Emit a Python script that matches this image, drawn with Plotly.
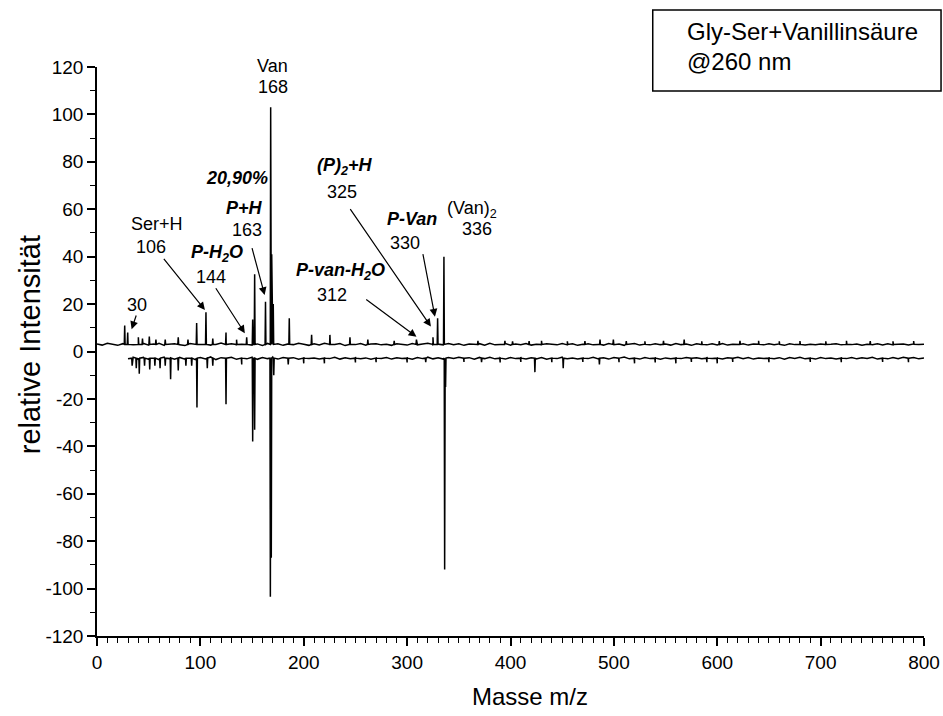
import plotly.graph_objects as go

# ---------------- data ----------------
upper_base = 3.0
lower_base = -2.8
noise_step = 5

# upper spectrum baseline deviations, every 5 m/z from 0 to 800
upper_noise = [
    0.2, -0.3, 0.5, 0.1, -0.4, 0.3, 0.6, -0.2, 0.0, 0.4,
    -0.3, 0.2, 0.5, -0.4, 0.1, 0.3, -0.2, -0.5, 0.4, 0.2,
    -0.1, 0.5, -0.3, 0.0, 0.6, -0.2, 0.3, -0.4, 0.1, 0.5,
    -0.3, 0.2, -0.5, 0.4, 0.0, 0.3, -0.4, 0.2, -0.1, 0.5,
    0.1, -0.4, 0.3, -0.2, 0.5, -0.3, 0.0, 0.4, -0.5, 0.2,
    -0.1, 0.4, -0.3, 0.2, 0.3, -0.2, 0.1, -0.4, 0.3, 0.0,
    -0.3, 0.4, -0.2, 0.2, 0.5, -0.4, 0.1, -0.2, 0.4, -0.1,
    0.3, -0.4, 0.2, -0.1, 0.3, -0.3, 0.5, -0.2, 0.0, 0.4,
    -0.3, 0.2, -0.1, 0.4, -0.3, 0.1, -0.4, 0.3, 0.0, -0.2,
    0.4, -0.2, 0.3, -0.4, 0.1, 0.3, -0.2, 0.0, -0.3, 0.4,
    -0.1, 0.2, -0.4, 0.2, 0.4, -0.3, 0.1, -0.2, 0.3, -0.1,
    0.2, -0.3, 0.4, -0.1, 0.2, -0.4, 0.3, 0.0, -0.2, 0.3,
    -0.2, 0.4, -0.3, 0.1, -0.1, 0.3, -0.3, 0.2, 0.1, -0.2,
    0.3, -0.1, 0.2, -0.4, 0.3, -0.1, 0.4, -0.3, 0.1, -0.2,
    0.2, -0.3, 0.1, 0.3, -0.2, 0.4, -0.1, 0.2, -0.4, 0.1,
    -0.1, 0.3, -0.2, 0.3, -0.2, 0.1, 0.2, -0.3, 0.2, -0.1,
    0.1,
]

# lower spectrum baseline deviations, every 5 m/z from 30 to 800
lower_start = 30
lower_noise = [
    -0.3, 0.4, -0.6, 0.3, -0.5, 0.2, -0.7, 0.4, -0.2, -0.5,
    0.3, -0.4, 0.2, -0.6, 0.3, -0.3, 0.5, -0.6, 0.2, -0.4,
    0.4, -0.5, 0.1, -0.3, 0.4, -0.5, 0.3, -0.2, 0.5, -0.4,
    0.3, -0.3, 0.2, -0.5, 0.4, -0.2, 0.1, -0.4, 0.3, -0.2,
    0.4, -0.4, 0.2, -0.3, 0.5, -0.3, 0.1, -0.5, 0.3, -0.1,
    0.3, -0.4, 0.2, -0.2, 0.4, -0.5, 0.3, -0.2, 0.4, -0.3,
    0.2, -0.4, 0.3, -0.1, 0.4, -0.3, 0.2, -0.5, 0.3, -0.2,
    0.4, -0.3, 0.1, -0.4, 0.3, -0.2, 0.5, -0.4, 0.2, -0.3,
    0.3, -0.5, 0.2, -0.2, 0.4, -0.3, 0.1, -0.4, 0.3, -0.2,
    0.4, -0.3, 0.2, -0.4, 0.3, -0.1, 0.5, -0.3, 0.2, -0.4,
    0.3, -0.2, 0.4, -0.5, 0.1, -0.3, 0.4, -0.2, 0.3, -0.4,
    0.2, -0.3, 0.5, -0.1, 0.3, -0.4, 0.2, -0.3, 0.4, -0.2,
    0.3, -0.4, 0.1, -0.2, 0.4, -0.3, 0.2, -0.5, 0.3, -0.1,
    0.4, -0.3, 0.2, -0.4, 0.3, -0.2, 0.1, -0.4, 0.4, -0.2,
    0.3, -0.3, 0.2, -0.1, 0.4, -0.4, 0.2, -0.3, 0.3, -0.2,
    0.4, -0.2, 0.3, -0.3, 0.1,
]

# upper spectrum peaks (m/z, relative intensity)
upper_peak_mz = [26.8, 29.7, 40, 44, 50.6, 57, 66, 78.6, 88, 96.4, 105.4, 112,
                 124.8, 135, 144.8, 150.6, 152.5, 163, 168, 169, 170.5, 186,
                 207.6, 225.3, 244.7, 262, 287.5, 309, 325, 329.5, 335.6,
                 368.5, 394.6, 402, 418, 430, 455, 472, 486.6, 499.5, 512, 530,
                 548, 568, 585, 602, 622, 640, 660, 680, 705, 725, 748, 770, 790]
upper_peak_int = [11, 8, 6, 5.5, 6.3, 5, 5, 6, 5, 12, 16.5, 5.5,
                  8, 5, 6, 13.5, 32.6, 21, 103, 41, 20, 14,
                  7, 7, 6, 5, 4.5, 5, 6, 14, 40,
                  4.5, 4.5, 4.3, 4.4, 4.5, 4.3, 4.4, 5, 5, 4.4, 4.3,
                  4.5, 5, 4.3, 4.4, 4.5, 4.5, 4.3, 4.4, 4.3, 4.5, 4.4, 4.3, 4.4]

# lower spectrum peaks (m/z, relative intensity)
lower_peak_mz = [34, 38, 40.9, 46, 51, 56, 61, 66, 71.2, 78.6, 86, 91.6,
                 96.7, 106.7, 112, 124.8, 140, 150.6, 152.5, 167.7, 168.6,
                 171, 185, 200, 220, 250, 270, 300, 318, 336.3, 337.2, 355,
                 372, 390, 410, 423.6, 440, 451, 470, 486, 505, 520, 540,
                 560, 575, 590, 600, 615, 650, 690, 720, 760, 785]
lower_peak_int = [-6, -7, -9.4, -6, -7.6, -6, -7, -6, -11.7, -8, -6, -6,
                  -23.6, -7, -6, -22.2, -5.5, -38, -33, -103.4, -87,
                  -10, -5.5, -5, -5, -4.6, -4.5, -4.6, -4.5, -92, -15, -4.4,
                  -4.5, -4.6, -4.4, -8.7, -4.5, -7, -4.4, -5.5, -4.5, -5, -4.6,
                  -5, -4.4, -4.5, -5, -4.4, -4.5, -4.4, -4.5, -4.4, -4.5]

x_tick_vals = [0, 100, 200, 300, 400, 500, 600, 700, 800]
y_tick_vals = [-120, -100, -80, -60, -40, -20, 0, 20, 40, 60, 80, 100, 120]
y_tick_text = ["-120", "-100", "-80", "-60", "-40", "-20", "0",
               "20", "40", "60", "80", "100", "120"]


def build(start, base, noise, mzs, ints, half=0.4):
    pts = [(start + i * noise_step, base + n) for i, n in enumerate(noise)]
    for m, h in zip(mzs, ints):
        pts += [(m - half, base), (m, h), (m + half, base)]
    pts.sort()
    return [p[0] for p in pts], [p[1] for p in pts]


ux, uy = build(0, upper_base, upper_noise, upper_peak_mz, upper_peak_int)
lx, ly = build(lower_start, lower_base, lower_noise, lower_peak_mz, lower_peak_int)

FONT = "Liberation Sans, Arial, sans-serif"

fig = go.Figure()
fig.add_trace(go.Scatter(x=ux, y=uy, mode="lines",
                         line=dict(color="black", width=1.5), showlegend=False))
fig.add_trace(go.Scatter(x=lx, y=ly, mode="lines",
                         line=dict(color="black", width=1.5), showlegend=False))

# ---------------- labels ----------------
labels = [
    ("Van", 170, 118.0, 6),
    ("168", 170, 111.5, 0),
    ("<b><i>20,90%</i></b>", 135, 73, 0),
    ("<b><i>P+H</i></b>", 143, 60.7, 0),
    ("163", 144.7, 51.3, 0),
    ("Ser+H", 57.7, 53.7, 0),
    ("106", 52.2, 44.2, 0),
    ("<b><i>P-H<sub>2</sub>O</i></b>", 115.7, 41.4, 0),
    ("144", 110, 31.3, 0),
    ("30", 38.4, 19.6, 0),
    ("<b><i>(P)<sub>2</sub>+H</i></b>", 240, 78, 0),
    ("325", 236.6, 67.4, 0),
    ("<b><i>P-Van</i></b>", 304.3, 55.9, 0),
    ("330", 297.9, 45.6, 0),
    ("(Van)<sub>2</sub>", 362.4, 60, 0),
    ("336", 367.8, 51.5, 0),
    ("<b><i>P-van-H<sub>2</sub>O</i></b>", 236, 33.7, 0),
    ("312", 227, 23.8, 0),
]
annotations = []
for text, x, y, ys in labels:
    annotations.append(dict(text=text, x=x, y=y, xref="x", yref="y", yshift=ys,
                            showarrow=False, font=dict(size=18, color="black", family=FONT),
                            xanchor="center", yanchor="middle"))

arrows = [  # tail (ax, ay) -> head (x, y)
    (149.6, 44.2, 162.2, 23.8),
    (63.5, 39.7, 104.4, 17.5),
    (114, 27.3, 143, 7.7),
    (38.4, 15.8, 33.5, 9.4),
    (244, 60.7, 323, 10.5),
    (315, 41.7, 326.9, 14.7),
    (259, 22.4, 309, 6.2),
]
for ax_, ay_, x_, y_ in arrows:
    annotations.append(dict(text="", x=x_, y=y_, ax=ax_, ay=ay_, xref="x", yref="y",
                            axref="x", ayref="y", showarrow=True, arrowhead=2,
                            arrowsize=1.3, arrowwidth=1.2, arrowcolor="black"))

# axis titles
annotations.append(dict(text="relative Intensität", xref="paper", yref="paper",
                        x=-0.081, y=0.511, textangle=-90, showarrow=False,
                        font=dict(size=29, color="black", family=FONT),
                        xanchor="center", yanchor="middle"))
annotations.append(dict(text="Masse m/z", xref="paper", yref="paper",
                        x=0.5236, y=-0.107, showarrow=False,
                        font=dict(size=24, color="black", family=FONT),
                        xanchor="center", yanchor="middle"))
# legend box texts
annotations.append(dict(text="Gly-Ser+Vanillinsäure", xref="paper", yref="paper",
                        x=0.711, y=1.062, showarrow=False, xanchor="left", yanchor="middle",
                        font=dict(size=24, color="black", family=FONT)))
annotations.append(dict(text="@260 nm", xref="paper", yref="paper",
                        x=0.711, y=1.009, showarrow=False, xanchor="left", yanchor="middle",
                        font=dict(size=24, color="black", family=FONT)))

fig.update_layout(
    width=943, height=716,
    margin=dict(l=97, r=19, t=67, b=80),
    paper_bgcolor="white", plot_bgcolor="white",
    font=dict(family=FONT, color="black"),
    annotations=annotations,
    shapes=[dict(type="rect", xref="paper", yref="paper",
                 x0=0.672, x1=1.0206, y0=0.958, y1=1.100,
                 line=dict(color="black", width=1.5), fillcolor="rgba(0,0,0,0)")],
)
fig.update_xaxes(range=[0, 800], tickvals=x_tick_vals, ticks="outside", ticklen=8,
                 tickwidth=1.5, tickcolor="black", showline=True, linecolor="black",
                 linewidth=1.5, showgrid=False, zeroline=False, automargin=False,
                 tickfont=dict(size=19, color="black", family=FONT),
                 minor=dict(dtick=10, ticks="outside", ticklen=5, tickwidth=1.2,
                            tickcolor="black", showgrid=False))
fig.update_yaxes(range=[-120, 120], tickvals=y_tick_vals, ticktext=y_tick_text,
                 ticks="outside", ticklen=8, tickwidth=1.5, tickcolor="black",
                 showline=True, linecolor="black", linewidth=1.5, showgrid=False,
                 zeroline=False, automargin=False,
                 tickfont=dict(size=19, color="black", family=FONT),
                 minor=dict(dtick=10, ticks="outside", ticklen=5, tickwidth=1.2,
                            tickcolor="black", showgrid=False))

fig.write_html("out.html", config={"displayModeBar": False},
               post_script="document.body.style.margin='0px';")
